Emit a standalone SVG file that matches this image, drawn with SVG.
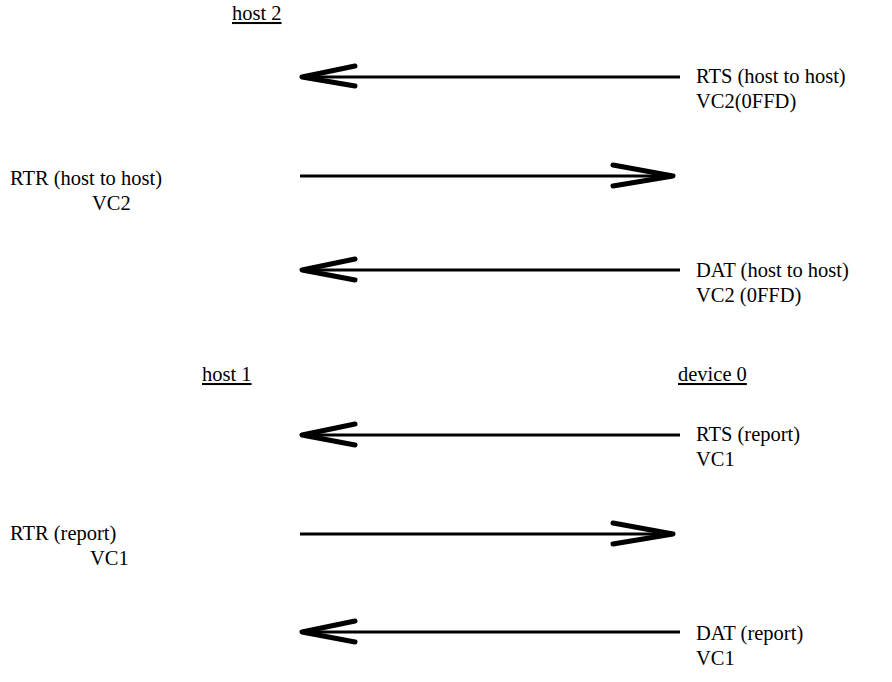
<svg xmlns="http://www.w3.org/2000/svg" width="892" height="682" viewBox="0 0 892 682">
<style>
text{font-family:"Liberation Serif","Times New Roman",serif;font-size:20.5px;fill:#000}
.u{text-decoration:underline}
.ln{stroke:#000;stroke-width:3.2;fill:none}
.hd{stroke:#000;stroke-width:5;fill:none;stroke-linecap:round;stroke-linejoin:round}
</style>
<rect width="892" height="682" fill="#fff"/>
<g id="connectors">
<path class="ln" d="M302 77H680"/><path class="hd" d="M355 66L302 77L355 86"/>
<path class="ln" d="M300 176H673"/><path class="hd" d="M613 165L673 176L613 186"/>
<path class="ln" d="M302 270H680"/><path class="hd" d="M355 259L302 270L355 280"/>
<path class="ln" d="M302 435H680"/><path class="hd" d="M355 424L302 435L355 445"/>
<path class="ln" d="M300 534H673"/><path class="hd" d="M613 523L673 534L613 544"/>
<path class="ln" d="M302 632H680"/><path class="hd" d="M355 621L302 632L355 642"/>
</g>
<g id="host2"><text x="232" y="20" class="u">host 2</text></g>
<g id="rts1"><text x="696" y="83">RTS (host to host)</text><text x="696" y="108">VC2(0FFD)</text></g>
<g id="rtr1"><text x="10" y="185">RTR (host to host)</text><text x="92" y="210">VC2</text></g>
<g id="dat1"><text x="696" y="277">DAT (host to host)</text><text x="696" y="302">VC2 (0FFD)</text></g>
<g id="host1"><text x="202" y="381" class="u">host 1</text></g>
<g id="device0"><text x="678" y="381" class="u">device 0</text></g>
<g id="rts2"><text x="696" y="441">RTS (report)</text><text x="696" y="466">VC1</text></g>
<g id="rtr2"><text x="10" y="540">RTR (report)</text><text x="90" y="565">VC1</text></g>
<g id="dat2"><text x="696" y="640">DAT (report)</text><text x="696" y="665">VC1</text></g>
</svg>
